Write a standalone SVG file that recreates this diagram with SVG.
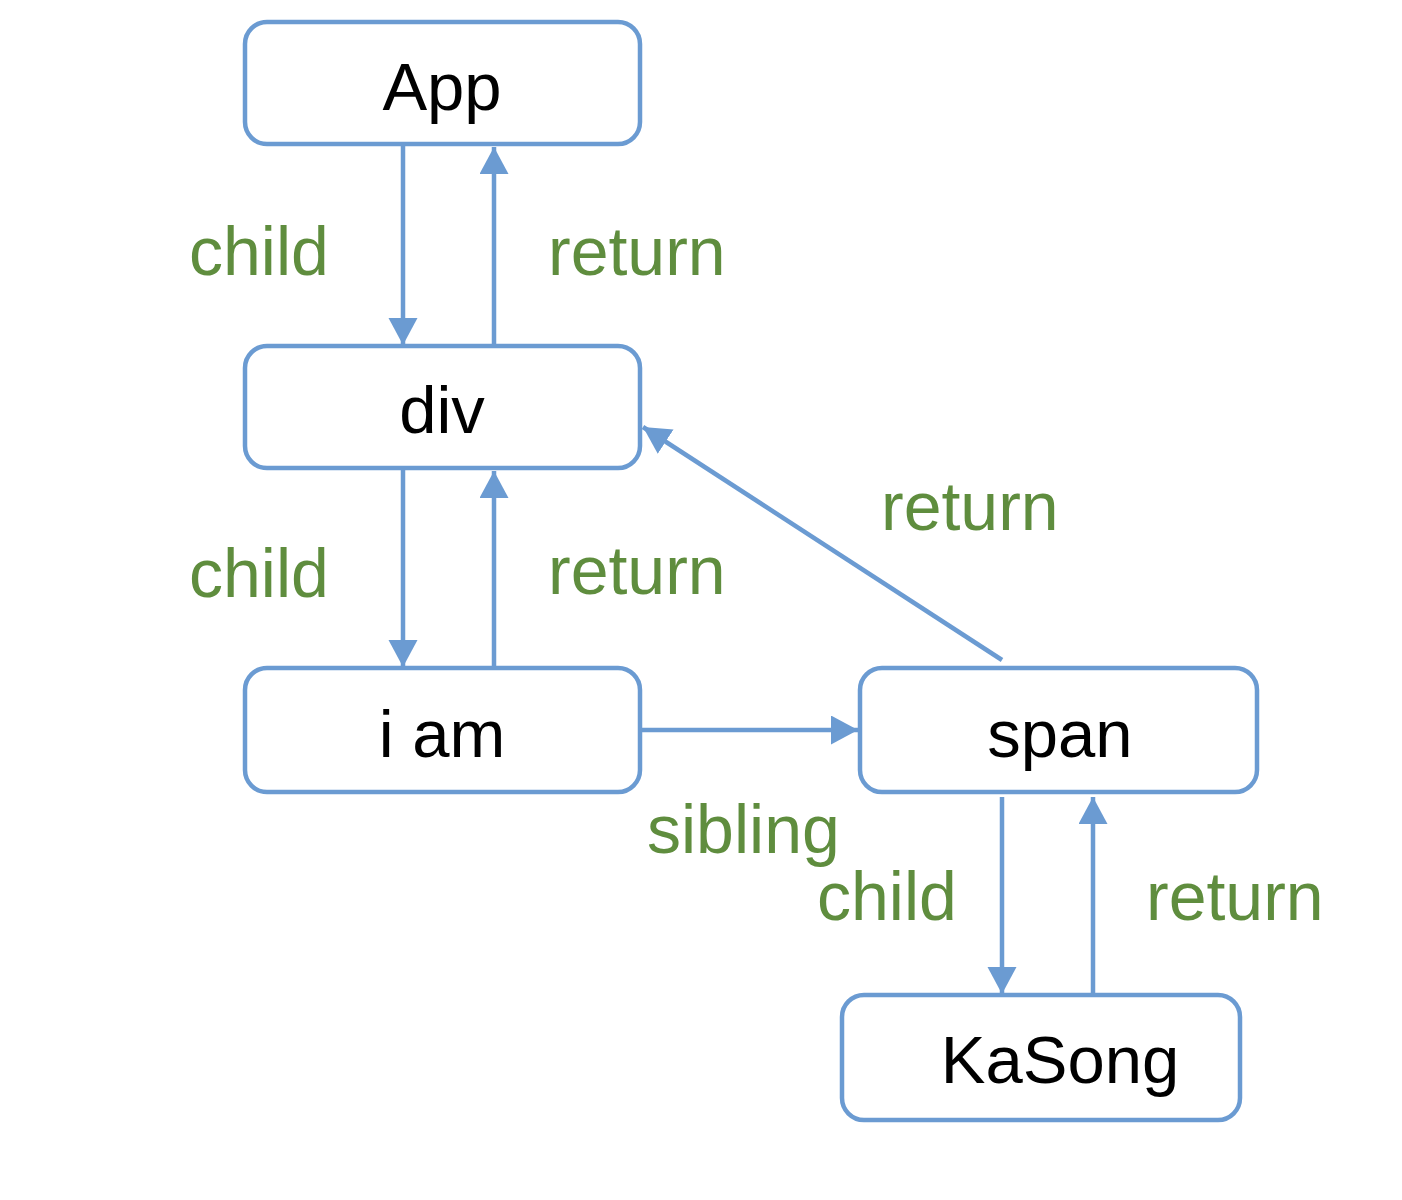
<svg xmlns="http://www.w3.org/2000/svg" width="1402" height="1200" viewBox="0 0 1402 1200">
<style>
.node rect{fill:#fff;stroke:#6B9BD2;stroke-width:4.5}
.node text{font-family:"Liberation Sans",Arial,sans-serif;font-size:67px;fill:#000;text-anchor:middle}
.edge{stroke:#6B9BD2;stroke-width:4.5;fill:none;marker-end:url(#ah)}
.lbl{font-family:"Liberation Sans",Arial,sans-serif;font-size:68px;fill:#5F8D3E}
</style>
<defs>
<marker id="ah" markerUnits="userSpaceOnUse" markerWidth="30" markerHeight="30" refX="27" refY="14.5" orient="auto">
<path d="M0,0 L27,14.5 L0,29 z" fill="#6B9BD2"/>
</marker>
</defs>
<rect width="1402" height="1200" fill="#fff"/>
<g id="connectors">
<line class="edge" x1="403" y1="146" x2="403" y2="345"/>
<line class="edge" x1="494" y1="346" x2="494" y2="147"/>
<line class="edge" x1="403" y1="470" x2="403" y2="667"/>
<line class="edge" x1="494" y1="668" x2="494" y2="471"/>
<line class="edge" x1="1002" y1="660" x2="643" y2="427"/>
<line class="edge" x1="642" y1="730" x2="858" y2="730"/>
<line class="edge" x1="1002" y1="797" x2="1002" y2="994"/>
<line class="edge" x1="1093" y1="995" x2="1093" y2="797"/>
</g>
<g id="labels">
<text class="lbl" x="189" y="275">child</text>
<text class="lbl" x="548" y="275">return</text>
<text class="lbl" x="189" y="597">child</text>
<text class="lbl" x="548" y="594">return</text>
<text class="lbl" x="881" y="530">return</text>
<text class="lbl" x="647" y="853">sibling</text>
<text class="lbl" x="817" y="920">child</text>
<text class="lbl" x="1146" y="920">return</text>
</g>
<g id="node-app" class="node"><rect x="245" y="22" width="395" height="122" rx="22"/><text x="442" y="110">App</text></g>
<g id="node-div" class="node"><rect x="245" y="346" width="395" height="122" rx="22"/><text x="442" y="433">div</text></g>
<g id="node-iam" class="node"><rect x="245" y="668" width="395" height="124" rx="22"/><text x="442" y="757">i am</text></g>
<g id="node-span" class="node"><rect x="860" y="668" width="397" height="124" rx="22"/><text x="1060" y="757">span</text></g>
<g id="node-kasong" class="node"><rect x="842" y="995" width="398" height="125" rx="22"/><text x="1060" y="1083">KaSong</text></g>
</svg>
